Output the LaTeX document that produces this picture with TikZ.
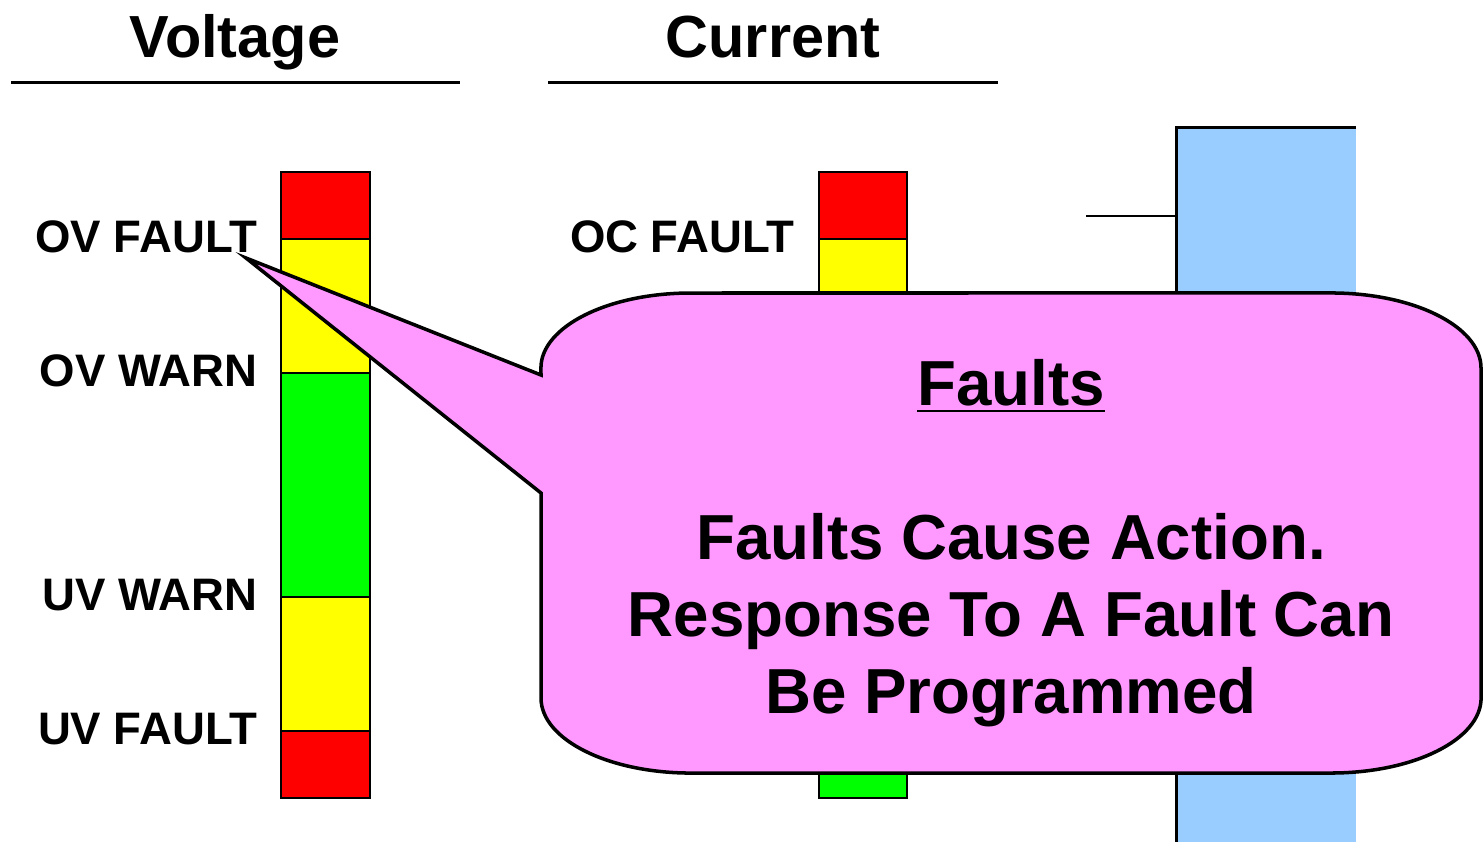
\documentclass[tikz,border=0pt]{standalone}
\usepackage{fontspec}
\setmainfont{Liberation Sans}
\usetikzlibrary{positioning}
\definecolor{barred}{HTML}{FF0000}
\definecolor{baryellow}{HTML}{FFFF00}
\definecolor{bargreen}{HTML}{00FF00}
\definecolor{callpink}{HTML}{FF99FF}
\definecolor{railblue}{HTML}{99CCFF}
\tikzset{
 lvl/.style={font=\bfseries\fontsize{12.95}{15}\selectfont,inner sep=0pt,anchor=east},
 head/.style={font=\bfseries\fontsize{16.9}{20}\selectfont,inner sep=0pt,anchor=base},
 seg/.style={draw=black,line width=0.6pt},
 rule/.style={line width=0.85pt},
}
\begin{document}
\begin{tikzpicture}[x=0.01cm,y=-0.01cm]
 \useasboundingbox (0,0) rectangle (1483,842);
 % headings
 \node[head] (volt) at (235,57) {Voltage};
 \node[head] (curr) at (773,57) {Current};
 \draw[rule] (11,82)--(460,82);
 \draw[rule] (548,82)--(998,82);
 % blue rail on the right
 \fill[railblue] (1176,127) rectangle (1356,842);
 \draw[rule] (1356,127)--(1176,127)--(1176,842);
 \draw[seg] (1086,216)--(1176,216);
 % voltage and current bars
 \foreach \ya/\yb/\c in {172/239/barred,239/373/baryellow,373/597/bargreen,597/731/baryellow,731/798/barred}
  \draw[seg,fill=\c] (281,\ya) rectangle (370,\yb);
 \foreach \ya/\yb/\c in {172/239/barred,239/373/baryellow,373/798/bargreen}
  \draw[seg,fill=\c] (819,\ya) rectangle (907,\yb);
 \foreach \n/\x/\y/\t in {ovf/258/237/OV FAULT,ovw/258/371/OV WARN,uvw/258/595/UV WARN,uvf/258/729/UV FAULT,ocf/795/237/OC FAULT}
  \node[lvl] (\n) at (\x,\y) {\t};
 % callout
 \coordinate (tip) at (246,258);
 \draw[line width=1pt,fill=callpink] (541,493)--(541,698)
  arc[start angle=180,end angle=270,x radius=1.5cm,y radius=0.75cm]--(1331,773)
  arc[start angle=270,end angle=360,x radius=1.5cm,y radius=0.75cm]--(1481,368)
  arc[start angle=0,end angle=90,x radius=1.5cm,y radius=0.75cm]--(691,293)
  arc[start angle=90,end angle=180,x radius=1.5cm,y radius=0.75cm]--(541,375)--(tip)--cycle;
 \node[font=\bfseries\fontsize{18.1}{21.9}\selectfont,align=center,inner sep=0pt] (msg) at (1011,543)
  {\underline{Faults}\\[21.9pt]Faults Cause Action.\\Response To A Fault Can\\Be Programmed};
\end{tikzpicture}
\end{document}
